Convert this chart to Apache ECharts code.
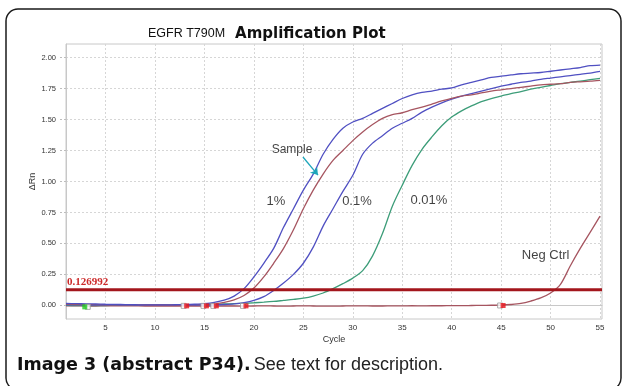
<!DOCTYPE html>
<html>
<head>
<meta charset="utf-8">
<script src="https://cdn.jsdelivr.net/npm/echarts@6/dist/echarts.min.js"></script>
<style>
html,body{margin:0;padding:0;background:#fff;}
#chart{width:625px;height:386px;}
</style>
</head>
<body>
<div id="chart"></div>
<script>
// ---- data ----
const cycles = [1,2,3,4,5,6,7,8,9,10,11,12,13,14,15,16,17,18,19,20,21,22,23,24,25,26,27,28,29,30,31,32,33,34,35,36,37,38,39,40,41,42,43,44,45,46,47,48,49,50,51,52,53,54,55];
const onePct = [0.015,0.014,0.012,0.011,0.009,0.008,0.006,0.005,0.004,0.004,0.004,0.005,
  0.006,0.009,0.014,0.024,0.042,0.075,0.135,0.23,
  0.34,0.46,0.63,0.78,0.93,1.06,1.22,1.34,1.43,1.48,
  1.51,1.55,1.59,1.63,1.67,1.70,1.72,1.73,1.745,1.755,
  1.78,1.80,1.82,1.84,1.85,1.86,1.87,1.875,1.88,1.89,
  1.90,1.91,1.92,1.935,1.94];
const sample = [0.008,0.007,0.007,0.006,0.005,0.005,0.004,0.004,0.003,0.003,0.003,0.003,
  0.003,0.005,0.008,0.014,0.025,0.045,0.08,0.14,
  0.23,0.34,0.46,0.61,0.78,0.93,1.06,1.17,1.25,1.33,
  1.40,1.46,1.51,1.54,1.555,1.58,1.60,1.625,1.65,1.672,
  1.69,1.70,1.715,1.73,1.74,1.75,1.76,1.77,1.78,1.785,
  1.79,1.80,1.805,1.81,1.817];
const pointOnePct = [0.004,0.004,0.003,0.003,0.003,0.002,0.002,0.002,0.001,0.001,0.001,0.0,
  0.0,0.001,0.002,0.004,0.007,0.012,0.022,0.04,
  0.07,0.12,0.18,0.25,0.34,0.47,0.64,0.78,0.92,1.05,
  1.22,1.31,1.37,1.43,1.47,1.51,1.56,1.60,1.635,1.665,
  1.69,1.71,1.73,1.75,1.77,1.785,1.80,1.81,1.825,1.835,
  1.845,1.855,1.865,1.875,1.889];
const pointZeroOnePct = [0.0,-0.002,-0.002,-0.001,-0.001,0.0,0.0,0.0,0.001,0.001,0.001,0.001,
  0.002,0.004,0.006,0.008,0.011,0.014,0.017,0.021,
  0.026,0.032,0.04,0.048,0.058,0.075,0.10,0.135,0.175,0.22,
  0.28,0.40,0.58,0.80,0.97,1.13,1.26,1.36,1.45,1.52,
  1.57,1.61,1.645,1.67,1.69,1.71,1.725,1.745,1.76,1.775,
  1.79,1.80,1.81,1.822,1.833];
const negCtrl = [-0.004,-0.004,-0.005,-0.005,-0.004,-0.004,-0.003,-0.004,-0.005,-0.005,-0.006,-0.006,
  -0.006,-0.006,-0.007,-0.006,-0.005,-0.005,-0.006,-0.005,
  -0.004,-0.005,-0.006,-0.005,-0.004,-0.005,-0.006,-0.006,-0.005,-0.004,
  -0.004,-0.005,-0.005,-0.004,-0.004,-0.003,-0.004,-0.003,-0.003,-0.002,
  -0.002,-0.001,0.0,0.001,0.002,0.007,0.016,0.035,0.06,0.10,
  0.17,0.32,0.46,0.59,0.72];
const threshold = 0.126992;
const xTicks = [5,10,15,20,25,30,35,40,45,50,55];
const yTicks = [0,0.25,0.5,0.75,1.0,1.25,1.5,1.75,2.0];
const endMarkerCycles = [13.2,15.2,16.2,19.2,45.2];
const endMarkerValues = [-0.004,-0.004,-0.004,-0.004,-0.001];
const startMarkerCycles = [12.9,14.9,15.9,18.9,44.9];
const greenMarker = [[2.9,-0.012]];
const greenMarkerOpen = [[3.2,-0.012]];
const annotations = [
  {name:'1%', x:22.23, y:0.843, size:13},
  {name:'0.1%', x:30.42, y:0.837, size:13},
  {name:'0.01%', x:37.7, y:0.85, size:13},
  {name:'Sample', x:23.85, y:1.26, size:12},
  {name:'Neg Ctrl', x:49.5, y:0.40, size:13}
];
const arrowFrom = [24.96, 1.198];
const arrowTo = [26.48, 1.052];

const BLUE = '#5050c2';
const RED = '#a65560';
const GREEN = '#3d9d79';

function pairs(vals){ return cycles.map((c,i)=>[c, vals[i]]); }
function lineSeries(name, vals, color){
  return {name, type:'line', data:pairs(vals), showSymbol:false, symbol:'none', smooth:0.3,
    lineStyle:{color, width:1.3}, itemStyle:{color}, z:3, animation:false};
}

const chart = echarts.init(document.getElementById('chart'), null, {renderer:'canvas'});
chart.setOption({
  animation:false,
  backgroundColor:'#ffffff',
  title:{
    text:'{a|EGFR T790M}  {b|Amplification Plot}',
    left:143, top:20,
    textStyle:{fontWeight:'normal', rich:{
      a:{fontFamily:'Liberation Sans', fontSize:12.5, fontWeight:'normal', color:'#111'},
      b:{fontFamily:'DejaVu Sans', fontSize:15, fontWeight:'bold', color:'#111'}
    }}
  },
  grid:{left:66, right:23, top:44, bottom:67, show:true, borderColor:'#c8c8c8', borderWidth:1, backgroundColor:'#fff'},
  xAxis:{
    type:'value', min:1, max:55.2,
    name:'Cycle', nameLocation:'middle', nameGap:16, nameMoveOverlap:false,
    nameTextStyle:{fontFamily:'Liberation Sans', fontSize:9, color:'#333'},
    axisLine:{show:true, lineStyle:{color:'#c8c8c8'}},
    axisTick:{show:false, customValues:xTicks},
    axisLabel:{customValues:xTicks, fontFamily:'Liberation Sans', fontSize:8, color:'#333', margin:5},
    splitLine:{show:true, lineStyle:{color:'#d6d6d6', type:[2,2], width:1}}
  },
  yAxis:{
    type:'value', min:-0.11, max:2.11,
    name:'ΔRn', nameLocation:'middle', nameGap:29, nameMoveOverlap:false,
    nameTextStyle:{fontFamily:'Liberation Sans', fontSize:9, color:'#333'},
    axisLine:{show:true, lineStyle:{color:'#c8c8c8'}},
    axisTick:{show:true, customValues:yTicks, length:8, lineStyle:{color:'#bdbdbd', type:[2,2]}},
    axisLabel:{customValues:yTicks, fontFamily:'Liberation Sans', fontSize:7.5, color:'#333', margin:10,
      formatter:v=>v.toFixed(2)},
    splitLine:{show:true, lineStyle:{color:'#d6d6d6', type:[2,2], width:1}}
  },
  series:[
    lineSeries('Neg Ctrl', negCtrl, RED),
    lineSeries('0.01%', pointZeroOnePct, GREEN),
    lineSeries('0.1%', pointOnePct, BLUE),
    lineSeries('Sample', sample, RED),
    lineSeries('1%', onePct, BLUE),
    {
      name:'Threshold', type:'line', symbol:'none', z:4,
      data:[[1, threshold],[55.2, threshold]],
      lineStyle:{color:'#a3161c', width:3},
      markPoint:{
        symbol:'circle', symbolSize:0,
        data:[{coord:[1.1, 0.141], value:threshold}],
        label:{show:true, position:[0,0], align:'left', verticalAlign:'bottom',
          formatter:p=>String(threshold),
          fontFamily:'Liberation Serif', fontWeight:'bold', fontSize:11, color:'#cc2a2a'}
      }
    },
    {
      name:'start markers', type:'scatter', symbol:'rect', symbolSize:[5,5], z:5,
      data:startMarkerCycles.map((c,i)=>[c, endMarkerValues[i]]),
      itemStyle:{color:'#ffffff', borderColor:'#9a9a9a', borderWidth:1}
    },
    {
      name:'end markers', type:'scatter', symbol:'rect', symbolSize:[5,5], z:6,
      data:endMarkerCycles.map((c,i)=>[c, endMarkerValues[i]]),
      itemStyle:{color:'#e8141c'}
    },
    {
      name:'green open', type:'scatter', symbol:'rect', symbolSize:[5,5], z:5,
      data:greenMarkerOpen, itemStyle:{color:'#fff', borderColor:'#9a9a9a', borderWidth:1}
    },
    {
      name:'green marker', type:'scatter', symbol:'rect', symbolSize:[5,5], z:6,
      data:greenMarker, itemStyle:{color:'#22cc22'}
    },
    {
      name:'annotations', type:'scatter', symbolSize:0, z:7,
      data:annotations.map(a=>({value:[a.x, a.y], name:a.name,
        label:{show:true, position:[0,0], align:'center', verticalAlign:'middle',
          formatter:a.name, fontFamily:'Liberation Sans', fontSize:a.size, color:'#111'}})),
      markLine:{
        silent:true, symbol:['none','arrow'], symbolSize:7,
        lineStyle:{color:'#1ea6ba', width:1.3, type:'solid'},
        label:{show:false},
        data:[[{coord:arrowFrom},{coord:arrowTo}]]
      }
    }
  ],
  graphic:[
    {type:'rect', shape:{x:6, y:9, width:615, height:381, r:12},
      style:{fill:'none', stroke:'#1a1a1a', lineWidth:1.5}, z:100},
    {type:'text', left:17, top:356,
      style:{
        text:'{b|Image 3 (abstract P34).} {n|See text for description.}',
        rich:{
          b:{fontFamily:'DejaVu Sans', fontWeight:'bold', fontSize:17.5, fill:'#111'},
          n:{fontFamily:'Liberation Sans', fontSize:18, fill:'#222'}
        }
      }, z:100}
  ]
});
</script>
</body>
</html>
